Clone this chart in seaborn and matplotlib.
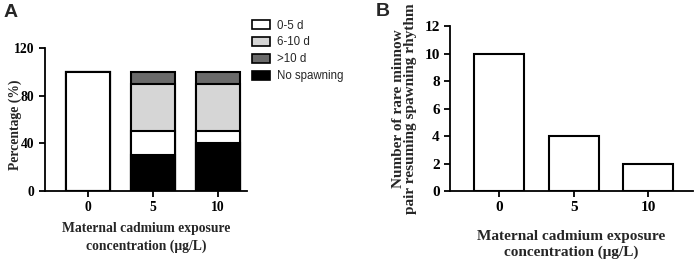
import numpy as np
import pandas as pd
import matplotlib
matplotlib.use("Agg")
import matplotlib.pyplot as plt
import matplotlib.patches as mpatches
import seaborn as sns

# panel A data (percent of pairs)
conc = ["0", "5", "10"]
no_spawning = [0, 30, 40]
d0_5 = [100, 20, 10]
d6_10 = [0, 40, 40]
d10plus = [0, 10, 10]

# panel B data
n_resuming = [10, 4, 2]

sns.set_theme(style="ticks")
plt.rcParams["font.family"] = ["Liberation Serif", "DejaVu Serif"]
plt.rcParams["font.weight"] = "bold"
plt.rcParams["axes.labelweight"] = "bold"

cols = {"0-5 d": "white", "6-10 d": "#d6d6d6", ">10 d": "#6a6a6a", "No spawning": "black"}

fig = plt.figure(figsize=(6.99, 2.64), dpi=100)
axA = fig.add_axes([0.0644, 0.2765, 0.2886, 0.5415])
axB = fig.add_axes([0.644, 0.2765, 0.347, 0.625])

# stacked bars drawn as cumulative overlays (top layer first)
dfA = pd.DataFrame({"conc": conc, "ns": no_spawning, "a": d0_5, "b": d6_10, "c": d10plus})
dfA["cum_ns"] = dfA["ns"]
dfA["cum_a"] = dfA["cum_ns"] + dfA["a"]
dfA["cum_b"] = dfA["cum_a"] + dfA["b"]
dfA["cum_c"] = dfA["cum_b"] + dfA["c"]

for col, lab in [("cum_c", ">10 d"), ("cum_b", "6-10 d"), ("cum_a", "0-5 d"), ("cum_ns", "No spawning")]:
    sns.barplot(data=dfA, x="conc", y=col, color=cols[lab], edgecolor="black",
                linewidth=1.5, width=0.68, saturation=1, ax=axA)

fsA = 9.8
fsB = 11
axA.set_ylim(0, 120)
axA.set_yticks([0, 40, 80, 120])
axA.set_xlim(-0.66, 2.45)
axA.set_ylabel("Percentage (%)", fontsize=fsA)
axA.yaxis.set_label_coords(-0.115, 0.46)
axA.set_xlabel("Maternal cadmium exposure\nconcentration (\u03bcg/L)", fontsize=fsA, linespacing=1.4)
axA.xaxis.set_label_coords(0.5, -0.22)

handles = [mpatches.Patch(facecolor=cols[k], edgecolor="black", linewidth=1.2, label=k) for k in cols]
fig.legend(handles=handles, loc="upper left", bbox_to_anchor=(0.345, 0.965), frameon=False,
           prop={"family": "Liberation Sans", "weight": "normal", "size": 8.3},
           handlelength=1.6, handleheight=0.8, labelspacing=0.42, handletextpad=0.65)

dfB = pd.DataFrame({"conc": conc, "n": n_resuming})
sns.barplot(data=dfB, x="conc", y="n", color="white", edgecolor="black", linewidth=1.5,
            width=0.67, saturation=1, ax=axB)
axB.set_ylim(0, 12)
axB.set_yticks(range(0, 13, 2))
axB.set_xlim(-0.66, 2.6)
axB.set_ylabel("Number of rare minnow\npair resuming spawning rhythm", fontsize=fsB, linespacing=0.95)
axB.yaxis.set_label_coords(-0.135, 0.5)
axB.set_xlabel("Maternal cadmium exposure\nconcentration (\u03bcg/L)", fontsize=fsB, linespacing=1.3)
axB.xaxis.set_label_coords(0.5, -0.235)

for ax, fs in ((axA, fsA), (axB, fsB)):
    sns.despine(ax=ax)
    for s in ("left", "bottom"):
        ax.spines[s].set_linewidth(1.3)
        ax.spines[s].set_color("black")
    ax.tick_params(axis="both", labelsize=fs, width=1.3, length=4, color="black", labelcolor="black")
    ax.tick_params(axis="x", pad=3)

fig.text(0.005, 0.985, "A", fontsize=14, fontweight="bold", family="Liberation Sans", va="top")
fig.text(0.538, 0.99, "B", fontsize=14, fontweight="bold", family="Liberation Sans", va="top")

fig.savefig("out.png", dpi=100)
